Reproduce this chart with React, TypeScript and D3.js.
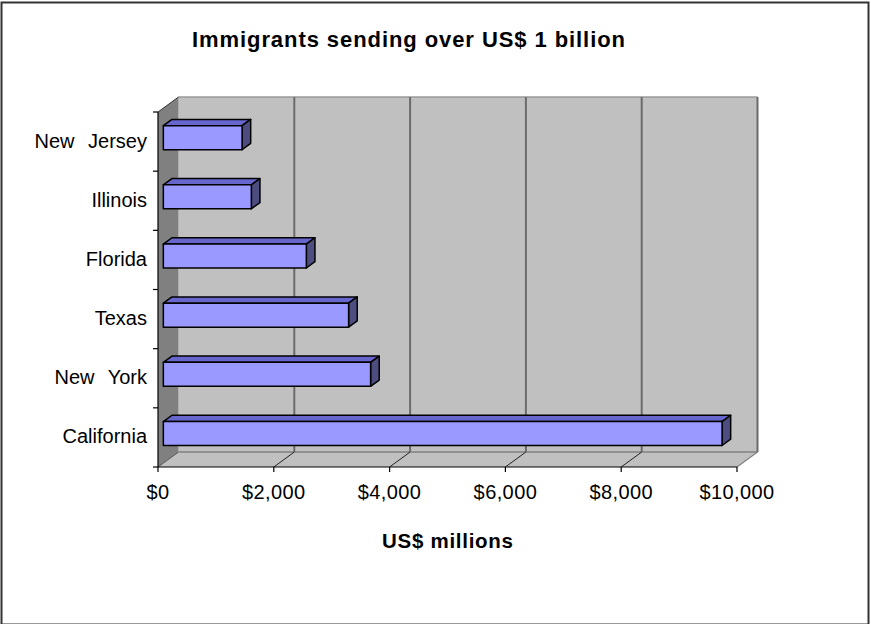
import React from "react";
import * as d3 from "d3";

const categories = ["New Jersey", "Illinois", "Florida", "Texas", "New York", "California"];
const values = [1360, 1520, 2470, 3200, 3580, 9650];
const xTicks = [0, 2000, 4000, 6000, 8000, 10000];
const title = "Immigrants sending over US$ 1 billion";
const xTitle = "US$ millions";

const W = 871;
const H = 624;
const X0 = 158;
const X1 = 737;
const YTOP = 112;
const YBOT = 467;
const DX = 20.5;
const DY = 15;
const Z0 = 0.26;
const Z1 = 0.68;
const FONT = "Arial, 'Liberation Sans', sans-serif";

export default function App() {
  const x = d3.scaleLinear().domain([0, 10000]).range([X0, X1]);
  const y = d3.scaleBand<string>().domain(categories).range([YTOP, YBOT]).padding(0);
  const bw = y.bandwidth();
  const barH = bw * 0.405;
  const P = (px: number, py: number, z: number): [number, number] => [px + z * DX, py - z * DY];
  const poly = (pts: [number, number][]) => pts.map((p) => p.join(",")).join(" ");
  const fmt = d3.format("$,");

  return (
    <svg width={W} height={H} style={{ position: "absolute", left: 0, top: 0, background: "#fff" }}>
      <rect x={1.5} y={2.5} width={867} height={622} fill="#fff" stroke="#333" strokeWidth={2} />
      <text x={408.5} y={47} textAnchor="middle" fontFamily={FONT} fontWeight="bold" fontSize={22} textLength={433} lengthAdjust="spacing">
        {title}
      </text>

      {/* back wall */}
      <rect x={X0 + DX} y={YTOP - DY} width={X1 - X0} height={YBOT - YTOP} fill="#C0C0C0" />
      {/* side wall */}
      <polygon points={poly([[X0, YTOP], [X0 + DX, YTOP - DY], [X0 + DX, YBOT - DY], [X0, YBOT]])} fill="#808080" />
      {/* floor */}
      <polygon points={poly([[X0, YBOT], [X0 + DX, YBOT - DY], [X1 + DX, YBOT - DY], [X1, YBOT]])} fill="#C0C0C0" />

      {/* wall edges */}
      <line x1={X0 + DX} y1={YTOP - DY} x2={X1 + DX} y2={YTOP - DY} stroke="#9a9a9a" strokeWidth={1.5} />
      <line x1={X0 + DX} y1={YBOT - DY} x2={X1 + DX} y2={YBOT - DY} stroke="#808080" strokeWidth={1.5} />
      <line x1={X1} y1={YBOT} x2={X1 + DX} y2={YBOT - DY} stroke="#808080" strokeWidth={1.2} />

      {/* gridlines on back wall */}
      {xTicks.filter((t) => t > 0).map((t) => (
        <line key={"g" + t} x1={x(t) + DX} y1={YTOP - DY} x2={x(t) + DX} y2={YBOT - DY} stroke="#6b6b6b" strokeWidth={2} />
      ))}
      {/* floor lines */}
      {xTicks.filter((t) => t > 0 && t < 10000).map((t) => (
        <line key={"f" + t} x1={x(t)} y1={YBOT} x2={x(t) + DX} y2={YBOT - DY} stroke="#222" strokeWidth={1} />
      ))}
      <line x1={X0} y1={YTOP} x2={X0 + DX} y2={YTOP - DY} stroke="#333" strokeWidth={1} />
      <line x1={X0} y1={YBOT} x2={X0 + DX} y2={YBOT - DY} stroke="#555" strokeWidth={1} />

      {/* axes */}
      <line x1={X0} y1={YTOP} x2={X0} y2={YBOT} stroke="#000" strokeWidth={1.2} />
      <line x1={X0} y1={YBOT} x2={X1} y2={YBOT} stroke="#000" strokeWidth={1.2} />
      {d3.range(categories.length + 1).map((i) => {
        const yy = YTOP + i * bw;
        return <line key={"yt" + i} x1={X0 - 5} y1={yy} x2={X0} y2={yy} stroke="#000" strokeWidth={1.2} />;
      })}
      {xTicks.map((t) => (
        <line key={"xt" + t} x1={x(t)} y1={YBOT} x2={x(t)} y2={YBOT + 5} stroke="#000" strokeWidth={1.2} />
      ))}

      {/* bars */}
      {categories.map((c, i) => {
        const yt = (y(c) as number) + (bw - barH) / 2;
        const yb = yt + barH;
        const xs = x(0);
        const xe = x(values[i]);
        const f0 = P(xs, yt, Z0);
        const f1 = P(xe, yb, Z0);
        return (
          <g key={c} stroke="#000" strokeWidth={1.5} strokeLinejoin="round">
            <polygon points={poly([P(xs, yt, Z0), P(xe, yt, Z0), P(xe, yt, Z1), P(xs, yt, Z1)])} fill="#6666CC" />
            <polygon points={poly([P(xe, yt, Z0), P(xe, yt, Z1), P(xe, yb, Z1), P(xe, yb, Z0)])} fill="#4D4D80" />
            <rect x={f0[0]} y={f0[1]} width={f1[0] - f0[0]} height={f1[1] - f0[1]} fill="#9999FF" />
          </g>
        );
      })}

      {/* category labels */}
      {categories.map((c) => (
        <text key={"l" + c} x={147} y={(y(c) as number) + bw / 2 + 6} textAnchor="end" fontFamily={FONT} fontSize={20} style={{ wordSpacing: "8px" }}>
          {c}
        </text>
      ))}
      {/* tick labels */}
      {xTicks.map((t) => (
        <text key={"tl" + t} x={x(t)} y={499} textAnchor="middle" fontFamily={FONT} fontSize={20} letterSpacing={0.4}>
          {fmt(t)}
        </text>
      ))}
      <text x={447.5} y={548} textAnchor="middle" fontFamily={FONT} fontWeight="bold" fontSize={20.5} textLength={131} lengthAdjust="spacing">
        {xTitle}
      </text>
    </svg>
  );
}
